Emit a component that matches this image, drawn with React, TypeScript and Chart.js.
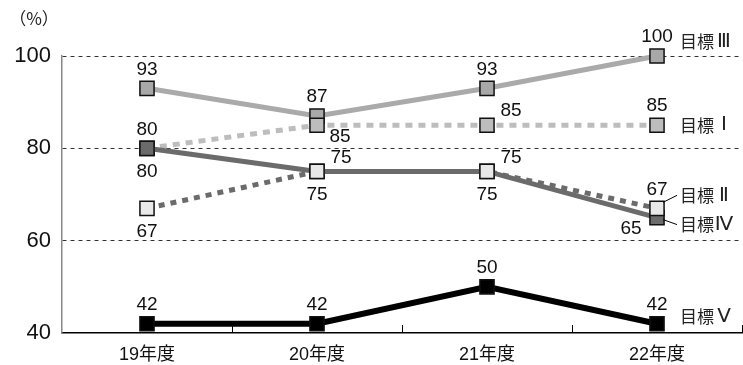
import React, { useEffect, useRef } from 'react';
import { Chart, registerables } from 'chart.js';

Chart.register(...registerables);

// ---- data ----
const categories = ['19年度', '20年度', '21年度', '22年度'];
const seriesNames = ['目標Ⅱ', '目標Ⅳ', '目標Ⅰ', '目標Ⅲ', '目標Ⅴ'];
const target2 = [67, 75, 75, 67];
const target4 = [80, 75, 75, 65];
const target1 = [80, 85, 85, 85];
const target3 = [93, 87, 93, 100];
const target5 = [42, 42, 50, 42];
const yMin = 40;
const yMax = 100;
const yStep = 20;
const unitLabel = '（%）';

// ---- styles (not data) ----
const seriesValues = [target2, target4, target1, target3, target5];
const lineColors = ['#6b6b6b', '#6b6b6b', '#bdbdbd', '#aaaaaa', '#000000'];
const pointFills = ['#e8e8e8', '#6b6b6b', '#bdbdbd', '#a8a8a8', '#000000'];
const lineDashes = [[6, 6], [], [7, 6], [], []];
const lineWidths = [5, 5, 5, 5, 6];

const valuePlacement = [
  ['below', 'aboveRight', 'aboveRight', 'above'],
  ['below', 'below', 'below', 'belowLeft'],
  ['above', 'belowRight', 'aboveRight', 'above'],
  ['above', 'above', 'above', 'above'],
  ['above', 'above', 'above', 'above'],
];
const placementOffsets: Record<string, [number, number]> = {
  above: [0, -19],
  below: [0, 23],
  aboveRight: [24, -14],
  belowRight: [23, 12],
  belowLeft: [-26, 11],
};
// name label offset from last point: dx, dy, leader line?
const nameOffsets: [number, number, boolean][] = [
  [23, -13, true],
  [23, 7, true],
  [23, 0, false],
  [23, -14, false],
  [23, -7, false],
];

const NUM_FONT = '"Liberation Sans", Arial, Helvetica, sans-serif';
const JP_FONT = '"Noto Sans CJK JP"';
const ROMAN_FONT = '"DejaVu Sans"';
const TICK_FONT = '"Liberation Sans", "Noto Sans CJK JP", sans-serif';

const annotations = {
  id: 'annotations',
  afterDatasetsDraw(chart: any) {
    const ctx = chart.ctx as CanvasRenderingContext2D;
    const { right, bottom } = chart.chartArea;
    const xs = chart.scales.x;
    ctx.save();
    // x tick marks between categories, pointing up
    ctx.strokeStyle = '#000';
    ctx.lineWidth = 1;
    for (let i = 0; i < categories.length; i++) {
      const xb =
        i < categories.length - 1
          ? (xs.getPixelForValue(i) + xs.getPixelForValue(i + 1)) / 2
          : right - 0.5;
      const px = Math.round(xb) + 0.5;
      ctx.beginPath();
      ctx.moveTo(px, bottom);
      ctx.lineTo(px, bottom - 8);
      ctx.stroke();
    }

    // value labels
    ctx.fillStyle = '#111';
    ctx.font = `19px ${NUM_FONT}`;
    ctx.textAlign = 'center';
    ctx.textBaseline = 'middle';
    seriesValues.forEach((vals, di) => {
      const meta = chart.getDatasetMeta(di);
      vals.forEach((v, j) => {
        const el = meta.data[j];
        const [dx, dy] = placementOffsets[valuePlacement[di][j]];
        ctx.fillText(String(v), el.x + dx, el.y + dy);
      });
    });

    // series name labels: kanji part + roman numeral centred in a wide cell
    ctx.fillStyle = '#222';
    seriesNames.forEach((name, di) => {
      const meta = chart.getDatasetMeta(di);
      const el = meta.data[meta.data.length - 1];
      const [dx, dy, leader] = nameOffsets[di];
      const head = name.slice(0, -1);
      const tail = name.slice(-1);
      ctx.font = `17px ${JP_FONT}`;
      ctx.textAlign = 'left';
      const x0 = el.x + dx;
      ctx.fillText(head, x0, el.y + dy);
      const hw = ctx.measureText(head).width;
      ctx.font = `20px ${ROMAN_FONT}`;
      ctx.textAlign = 'center';
      ctx.fillText(tail, x0 + hw + 10, el.y + dy);
      if (leader) {
        ctx.strokeStyle = '#000';
        ctx.lineWidth = 1;
        ctx.beginPath();
        ctx.moveTo(el.x + 6, el.y + (dy < 0 ? -6 : 2));
        ctx.lineTo(el.x + dx - 3, el.y + dy);
        ctx.stroke();
      }
    });

    // unit label
    ctx.font = `17px ${JP_FONT}`;
    ctx.textAlign = 'center';
    ctx.fillStyle = '#222';
    ctx.fillText(unitLabel, 34, 19);
    ctx.restore();
  },
};

export default function App() {
  const ref = useRef<HTMLCanvasElement>(null);
  useEffect(() => {
    document.body.style.margin = '0';
    const canvas = ref.current!;
    const chart = new Chart(canvas, {
      type: 'line',
      data: {
        labels: categories,
        datasets: seriesValues.map((vals, i) => ({
          label: seriesNames[i],
          data: vals,
          borderColor: lineColors[i],
          borderWidth: lineWidths[i],
          borderDash: lineDashes[i],
          backgroundColor: pointFills[i],
          pointBackgroundColor: pointFills[i],
          pointBorderColor: '#111',
          pointBorderWidth: 1.5,
          pointStyle: 'rect',
          pointRadius: 10,
          tension: 0,
          fill: false,
          clip: false as any,
        })),
      },
      options: {
        animation: false,
        responsive: false,
        devicePixelRatio: 1,
        layout: { autoPadding: false, padding: { top: 56, right: 1, left: 0, bottom: 0 } },
        plugins: {
          legend: { display: false },
          tooltip: { enabled: false },
        },
        scales: {
          x: {
            offset: true,
            grid: { display: false, drawTicks: false },
            border: { display: true, color: '#000', width: 1.5 },
            ticks: {
              color: '#111',
              padding: 11,
              font: { size: 18, family: TICK_FONT },
            },
            afterFit: (s: any) => {
              s.height = 32;
              s.paddingLeft = 0;
              s.paddingRight = 0;
            },
          },
          y: {
            min: yMin,
            max: yMax,
            ticks: {
              stepSize: yStep,
              color: '#111',
              padding: 11,
              font: { size: 22, family: NUM_FONT },
            },
            grid: {
              drawTicks: false,
              color: (c: any) => (c.tick && c.tick.value === yMin ? 'rgba(0,0,0,0)' : '#333'),
              lineWidth: 1,
            },
            border: { display: true, color: '#888', width: 1.5, dash: [4, 4] },
            afterFit: (s: any) => {
              s.width = 62;
            },
          },
        },
      },
      plugins: [annotations],
    } as any);
    return () => chart.destroy();
  }, []);
  return (
    <div style={{ width: 743, height: 365 }}>
      <canvas ref={ref} width={743} height={365} style={{ display: 'block' }} />
    </div>
  );
}
